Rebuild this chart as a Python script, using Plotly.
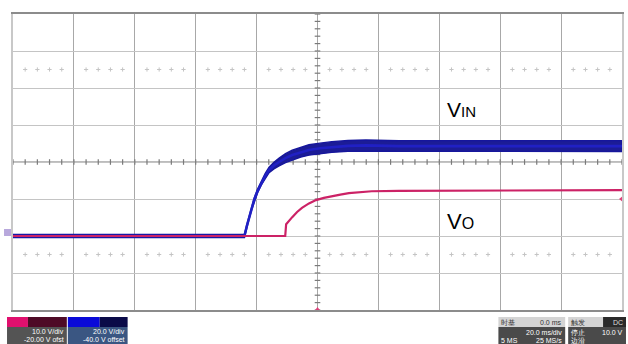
import numpy as np
import plotly.graph_objects as go

# ---------------- data ----------------
# time in ms (20 ms/div, trigger at 0 ms)
t_vin = [-100, -24.0, -23.2, -22.4, -21.6, -20.8, -19.7, -18.5, -17.2, -15.9, -14.3, -12.6,
         -10.5, -8.3, -5.5, -2.8, 0.8, 4.7, 10.0, 15.9, 26.7, 60, 100]
v_vin = [0, 0, 5.4, 10.3, 15.1, 19.5, 24.3, 28.6, 32.4, 35.7, 38.1, 40.0,
         42.1, 43.8, 45.3, 46.5, 47.4, 48.1, 48.7, 49.0, 48.6, 48.6, 48.6]
# half width of the noisy band on VIN (V)
vin_ripple = [0.9, 0.9, 0.8, 0.8, 0.8, 0.9, 1.0, 1.1, 1.3, 1.5, 1.8, 2.1,
              2.4, 2.6, 2.7, 2.8, 2.8, 2.9, 2.9, 2.9, 2.9, 2.9, 2.9]

t_vo = [-100, -10.6, -10.3, -9.3, -8.3, -6.7, -5.1, -2.8, -0.5, 2.1, 4.7, 7.5, 10.3,
        14.0, 17.8, 26.7, 60, 100]
v_vo = [0, 0, 3.2, 4.3, 5.1, 6.5, 7.6, 8.8, 9.7, 10.3, 10.8, 11.2, 11.6,
        11.9, 12.1, 12.2, 12.3, 12.4]

# scope settings
time_per_div = 20.0      # ms/div
ch_vin_vdiv, ch_vin_offset = 20.0, -40.0   # blue channel
ch_vo_vdiv, ch_vo_offset = 10.0, -20.0     # magenta channel
trig_level = 10.0        # V on VO channel
n_xdiv, n_ydiv = 10, 8

labels_left = [("10.0 V/div", "-20.00 V ofst"), ("20.0 V/div", "-40.0 V offset")]
labels_right = [("时基", "0.0 ms", "20.0 ms/div", "5 MS", "25 MS/s"),
                ("触发", "DC", "停止", "10.0 V", "边沿")]

# ---------------- geometry ----------------
W, H = 628, 344
L, R, T, B = 13, 4, 14, 34
PW, PH = W - L - R, H - T - B

def px(x):
    return (x - L) / PW

def py(y):
    return (H - B - y) / PH

BLUE = "#16169c"
BLUE_FILL = "#1c1c96"
PINK = "#cc2266"

x_half = time_per_div * n_xdiv / 2
yb_center = -ch_vin_offset
yb_range = [yb_center - ch_vin_vdiv * n_ydiv / 2, yb_center + ch_vin_vdiv * n_ydiv / 2]
yp_center = -ch_vo_offset
yp_range = [yp_center - ch_vo_vdiv * n_ydiv / 2, yp_center + ch_vo_vdiv * n_ydiv / 2]

fig = go.Figure()

# ---------- graticule decorations ----------
minor_x = np.arange(-x_half, x_half + 1e-9, time_per_div / 5)
minor_y = np.arange(yb_range[0], yb_range[1] + 1e-9, ch_vin_vdiv / 5)
dot_x = [v for v in minor_x if abs(v / time_per_div - round(v / time_per_div)) > 1e-6]
for row in (yb_center + 2.5 * ch_vin_vdiv, yb_center - 2.5 * ch_vin_vdiv):
    fig.add_trace(go.Scatter(x=dot_x, y=[row] * len(dot_x), mode="markers",
                             marker=dict(symbol="cross-thin", size=3,
                                         line=dict(color="#c4c4c4", width=1)),
                             hoverinfo="skip", showlegend=False))
fig.add_trace(go.Scatter(x=[0] * len(minor_y), y=minor_y, mode="markers",
                         marker=dict(symbol="line-ew", size=4,
                                     line=dict(color="#7a7a7a", width=1.2)),
                         hoverinfo="skip", showlegend=False))
fig.add_trace(go.Scatter(x=minor_x, y=[yb_center] * len(minor_x), mode="markers",
                         marker=dict(symbol="line-ns", size=4,
                                     line=dict(color="#7a7a7a", width=1.2)),
                         hoverinfo="skip", showlegend=False))

# ---------- VO (magenta) ----------
fig.add_trace(go.Scatter(x=t_vo, y=v_vo, mode="lines", yaxis="y2",
                         line=dict(color=PINK, width=2.2),
                         hoverinfo="skip", showlegend=False))

# ---------- VIN (blue) noisy band ----------
upper = [v + r for v, r in zip(v_vin, vin_ripple)]
lower = [v - r for v, r in zip(v_vin, vin_ripple)]
fig.add_trace(go.Scatter(x=t_vin + t_vin[::-1], y=upper + lower[::-1], mode="lines",
                         fill="toself", fillcolor=BLUE_FILL,
                         line=dict(color=BLUE, width=1.4),
                         hoverinfo="skip", showlegend=False))
fig.add_trace(go.Scatter(x=t_vin, y=v_vin, mode="lines",
                         line=dict(color="#2020c4", width=2.6),
                         hoverinfo="skip", showlegend=False))

# ---------- trigger markers ----------
fig.add_trace(go.Scatter(x=[0], y=[yb_range[0]], mode="markers", cliponaxis=False,
                         marker=dict(symbol="triangle-up", size=6, color="#e0407a"),
                         hoverinfo="skip", showlegend=False))
fig.add_trace(go.Scatter(x=[x_half], y=[trig_level], yaxis="y2", mode="markers",
                         cliponaxis=False,
                         marker=dict(symbol="triangle-left", size=6, color="#e0407a"),
                         hoverinfo="skip", showlegend=False))

shapes = []
shapes.append(dict(type="line", xref="paper", yref="paper", x0=0, x1=1, y0=0.5, y1=0.5,
                   line=dict(color="#7a7a7a", width=1.2), layer="below"))
shapes.append(dict(type="rect", xref="paper", yref="paper",
                   x0=px(4), x1=px(11), y0=py(236), y1=py(229),
                   fillcolor="#b8a8dc", line=dict(width=0)))

# ---------- status bar ----------
def rect(x0, x1, y0, y1, c):
    shapes.append(dict(type="rect", xref="paper", yref="paper",
                       x0=px(x0), x1=px(x1), y0=py(y1), y1=py(y0),
                       fillcolor=c, line=dict(width=0)))

rect(7, 28, 317, 327, "#e0106e")
rect(28, 67, 317, 327, "#4e0a26")
rect(7, 67, 327, 344, "#545454")
rect(68, 100, 317, 327, "#0a0ad8")
rect(100, 128, 317, 327, "#0a0a48")
rect(68, 128, 327, 344, "#3a5682")
rect(500, 567, 317, 327, "#d4d4d4")
rect(500, 567, 327, 344, "#4a4a4a")
rect(570, 628, 317, 327, "#d4d4d4")
rect(605, 628, 317, 327, "#2a2a2a")
rect(570, 628, 327, 344, "#4a4a4a")

ann = []

def txt(x, y, s, anchor="right", color="white", size=7):
    ann.append(dict(x=px(x), y=py(y), xref="paper", yref="paper", text=s,
                    showarrow=False, xanchor=anchor, yanchor="middle",
                    font=dict(size=size, color=color, family="Liberation Sans")))

txt(66, 331, labels_left[0][0])
txt(66, 339, labels_left[0][1])
txt(127, 331, labels_left[1][0])
txt(127, 339, labels_left[1][1])
txt(501, 322, labels_right[0][0], "left", "#333333")
txt(566, 322, labels_right[0][1], "right", "#333333")
txt(566, 332, labels_right[0][2])
txt(501, 340, labels_right[0][3], "left")
txt(566, 340, labels_right[0][4])
txt(571, 322, labels_right[1][0], "left", "#333333")
txt(627, 322, labels_right[1][1], "right", "#dddddd")
txt(571, 332, labels_right[1][2], "left")
txt(627, 332, labels_right[1][3])
txt(571, 340, labels_right[1][4], "left")

# signal labels
ann.append(dict(x=42.0, y=yb_center + 1.42 * ch_vin_vdiv, xref="x", yref="y",
                text="V<span style='font-size:15px'>IN</span>", showarrow=False,
                xanchor="left", yanchor="middle",
                font=dict(size=21, color="black", family="Liberation Sans")))
ann.append(dict(x=42.0, y=yb_center - 1.62 * ch_vin_vdiv, xref="x", yref="y",
                text="V<span style='font-size:16px'>O</span>", showarrow=False,
                xanchor="left", yanchor="middle",
                font=dict(size=22, color="black", family="Liberation Sans")))

fig.update_layout(
    width=W, height=H, margin=dict(l=L, r=R, t=T, b=B),
    paper_bgcolor="white", plot_bgcolor="white",
    shapes=shapes, annotations=ann, showlegend=False,
    xaxis=dict(range=[-x_half, x_half], dtick=time_per_div, tick0=-x_half,
               showgrid=True, gridcolor="#a8a8a8", gridwidth=1.3,
               showline=True, mirror=True, linecolor="#8c8c8c", linewidth=2,
               showticklabels=False, ticks="", zeroline=False, fixedrange=True),
    yaxis=dict(range=yb_range, dtick=ch_vin_vdiv, tick0=yb_range[0],
               showgrid=True, gridcolor="#c4c4c4", gridwidth=1.3,
               showline=True, mirror=True, linecolor="#c8c8c8", linewidth=2,
               showticklabels=False, ticks="", zeroline=False, fixedrange=True),
    yaxis2=dict(range=yp_range, overlaying="y", showgrid=False, showline=False,
                showticklabels=False, ticks="", zeroline=False, fixedrange=True),
)

fig.write_html("out.html", config={"displayModeBar": False},
               post_script="document.body.style.margin='0';document.body.style.overflow='hidden';")
